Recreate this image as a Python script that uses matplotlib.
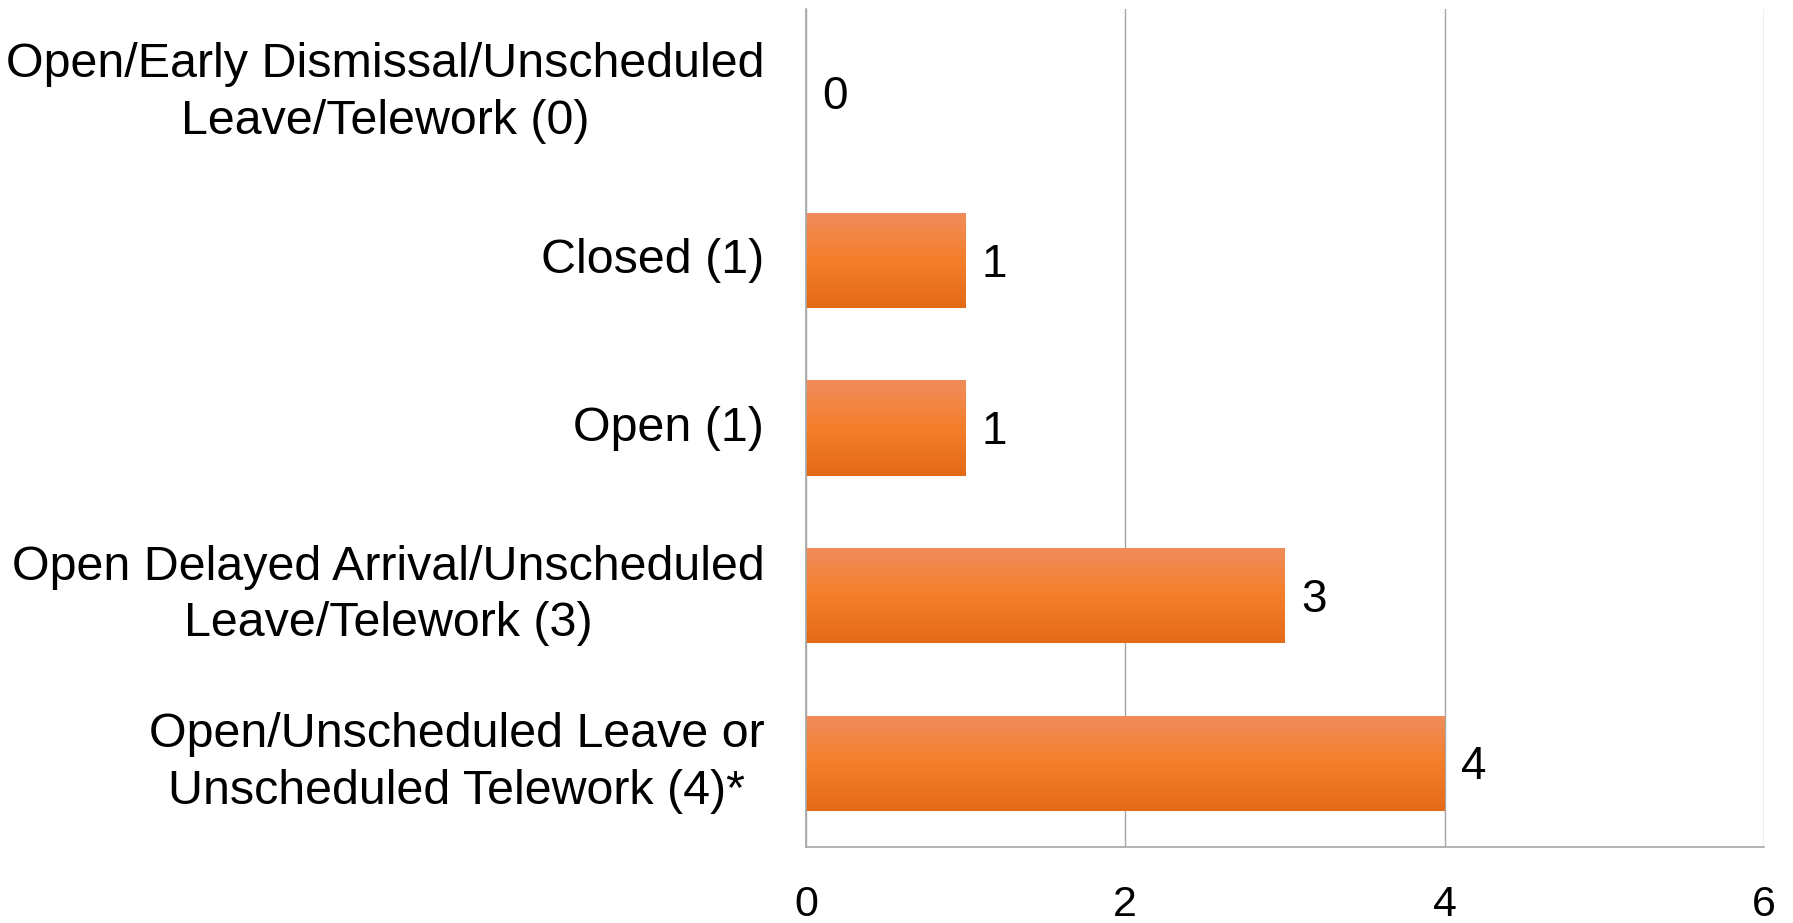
import numpy as np
import matplotlib.pyplot as plt
import matplotlib.transforms as mtransforms
from matplotlib.colors import LinearSegmentedColormap

categories = [
    "Open/Early Dismissal/Unscheduled\nLeave/Telework (0)",
    "Closed (1)",
    "Open (1)",
    "Open Delayed Arrival/Unscheduled\nLeave/Telework (3)",
    "Open/Unscheduled Leave or\nUnscheduled Telework (4)*",
]
values = [0, 1, 1, 3, 4]
x_ticks = [0, 2, 4, 6]

plt.rcParams['font.family'] = ['Liberation Sans', 'DejaVu Sans']

fig = plt.figure(figsize=(17.93, 9.23), dpi=100)
ax = fig.add_axes([0.4495, 0.0823, 0.5343, 0.9077])

y = np.arange(len(categories))
bars = ax.barh(y, values, height=0.57, color='none', edgecolor='none', zorder=2)

# vertical orange gradient, lighter at the top
cmap = LinearSegmentedColormap.from_list('bar', ['#E46A18', '#F47F2A', '#F08C5C'])
grad = np.linspace(0, 1, 256).reshape(-1, 1)
for bar in bars:
    w = bar.get_width()
    if w <= 0:
        continue
    y0 = bar.get_y()
    h = bar.get_height()
    # y axis inverted: top of bar in data coords is y0
    im = ax.imshow(grad, cmap=cmap, aspect='auto', origin='lower',
                   extent=[0, w, y0 + h, y0], zorder=2)
    im.set_clip_path(bar)

down = mtransforms.ScaledTranslation(0, -3 / 72, fig.dpi_scale_trans)
for yi, v in zip(y, values):
    ax.text(v + 0.1, yi, str(v), va='center', ha='left', fontsize=33,
            transform=ax.transData + down)

ax.set_xlim(0, 6)
ax.set_ylim(len(categories) - 0.5, -0.5)
ax.set_yticks(y)
ax.set_yticklabels(categories, fontsize=34.8, linespacing=1.33, va='center',
                   multialignment='center')
ax.set_xticks(x_ticks)
ax.set_xticklabels([str(t) for t in x_ticks], fontsize=31)
ax.tick_params(axis='y', length=0, pad=30)
ax.tick_params(axis='x', length=0, pad=27)
ax.xaxis.grid(True, color='#A6A6A6', linewidth=1)
ax.set_axisbelow(True)
for s in ['top', 'right']:
    ax.spines[s].set_visible(False)
for s in ['left', 'bottom']:
    ax.spines[s].set_color('#A6A6A6')
    ax.spines[s].set_linewidth(1.2)

fig.savefig('out.png', dpi=100)
